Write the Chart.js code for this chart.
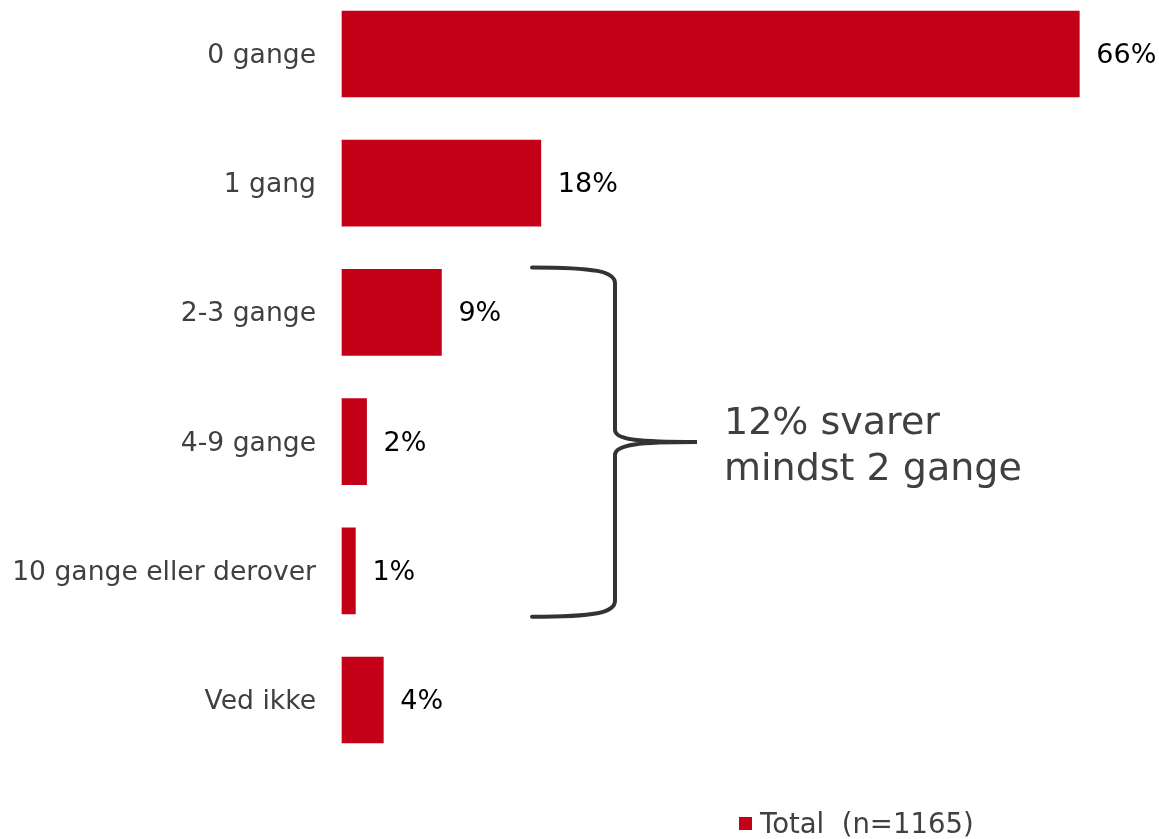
<!DOCTYPE html>
<html>
<head>
<meta charset="utf-8">
<script src="https://cdn.jsdelivr.net/npm/chart.js@4"></script>
<style>
  html, body { margin: 0; padding: 0; background: #fff; }
  #wrap { position: relative; width: 1159px; height: 839px; }
  #legend {
    position: absolute; left: 739px; top: 805px;
    font-family: "DejaVu Sans", Verdana, sans-serif; font-size: 27.5px; color: #404040;
    white-space: pre; line-height: 36px;
  }
  #legend .box { display: inline-block; width: 13px; height: 13px; background: #C40018; margin-right: 8px; vertical-align: 3px; }
</style>
</head>
<body>
<div id="wrap">
  <canvas id="chart" width="1159" height="839"></canvas>
  <div id="legend"><span class="box"></span>Total  (n=1165)</div>
</div>
<script>
const categories = ['0 gange', '1 gang', '2-3 gange', '4-9 gange', '10 gange eller derover', 'Ved ikke'];
const totalValues = [66, 17.8, 8.9, 2.2, 1.2, 3.7];
const seriesName = 'Total  (n=1165)';
const braceText = ['12% svarer', 'mindst 2 gange'];

const FONT = '"DejaVu Sans", Verdana, sans-serif';
const RED = '#C40018';

// value labels right of each bar
const valueLabels = {
    id: 'valueLabels',
    afterDatasetsDraw(chart) {
        const ctx = chart.ctx;
        const meta = chart.getDatasetMeta(0);
        ctx.save();
        ctx.font = '27px ' + FONT;
        ctx.fillStyle = '#000';
        ctx.textAlign = 'left';
        ctx.textBaseline = 'middle';
        meta.data.forEach((bar, i) => {
            ctx.fillText(Math.round(totalValues[i]) + '%', bar.x + 17, bar.y + 2);
        });
        ctx.restore();
    }
};

// curly brace around rows 2..4 plus its note
const brace = {
    id: 'brace',
    afterDraw(chart) {
        const ctx = chart.ctx;
        const meta = chart.getDatasetMeta(0);
        const first = meta.data[2], last = meta.data[4];
        const top = first.y - first.height / 2 - 2;
        const bottom = last.y + last.height / 2 + 3;
        const mid = (top + bottom) / 2;
        const left = chart.chartArea.left;
        const x0 = left + 190, x1 = left + 273, x2 = left + 355;

        ctx.save();
        ctx.strokeStyle = '#333';
        ctx.lineWidth = 4;
        ctx.lineCap = 'round';
        ctx.beginPath();
        ctx.moveTo(x0, top);
        ctx.bezierCurveTo(x1 - 20, top, x1, top + 4, x1, top + 16);
        ctx.lineTo(x1, mid - 12);
        ctx.bezierCurveTo(x1, mid - 2, x1 + 25, mid, x2, mid);
        ctx.bezierCurveTo(x1 + 25, mid, x1, mid + 2, x1, mid + 13);
        ctx.lineTo(x1, bottom - 16);
        ctx.bezierCurveTo(x1, bottom - 4, x1 - 20, bottom, x0, bottom);
        ctx.stroke();

        ctx.font = '38px ' + FONT;
        ctx.fillStyle = '#404040';
        ctx.textAlign = 'left';
        ctx.textBaseline = 'middle';
        ctx.fillText(braceText[0], x2 + 27, mid - 18);
        ctx.fillText(braceText[1], x2 + 27, mid + 28);
        ctx.restore();
    }
};

new Chart(document.getElementById('chart').getContext('2d'), {
    type: 'bar',
    data: {
        labels: categories,
        datasets: [{
            label: seriesName,
            data: totalValues,
            backgroundColor: RED,
            borderWidth: 0,
            barThickness: 86,
            clip: false
        }]
    },
    options: {
        indexAxis: 'y',
        responsive: false,
        animation: false,
        layout: { padding: { top: 54, bottom: 139, left: 0, right: 35 } },
        plugins: {
            legend: { display: false },
            tooltip: { enabled: false }
        },
        scales: {
            x: {
                display: false,
                min: 0,
                max: 70
            },
            y: {
                offset: false,
                grid: { display: false, drawTicks: false },
                border: { display: false },
                ticks: {
                    padding: 26,
                    labelOffset: 2,
                    color: '#404040',
                    font: { family: FONT, size: 26.6 }
                },
                afterFit(scale) { scale.width = 342; }
            }
        }
    },
    plugins: [valueLabels, brace]
});
</script>
</body>
</html>
